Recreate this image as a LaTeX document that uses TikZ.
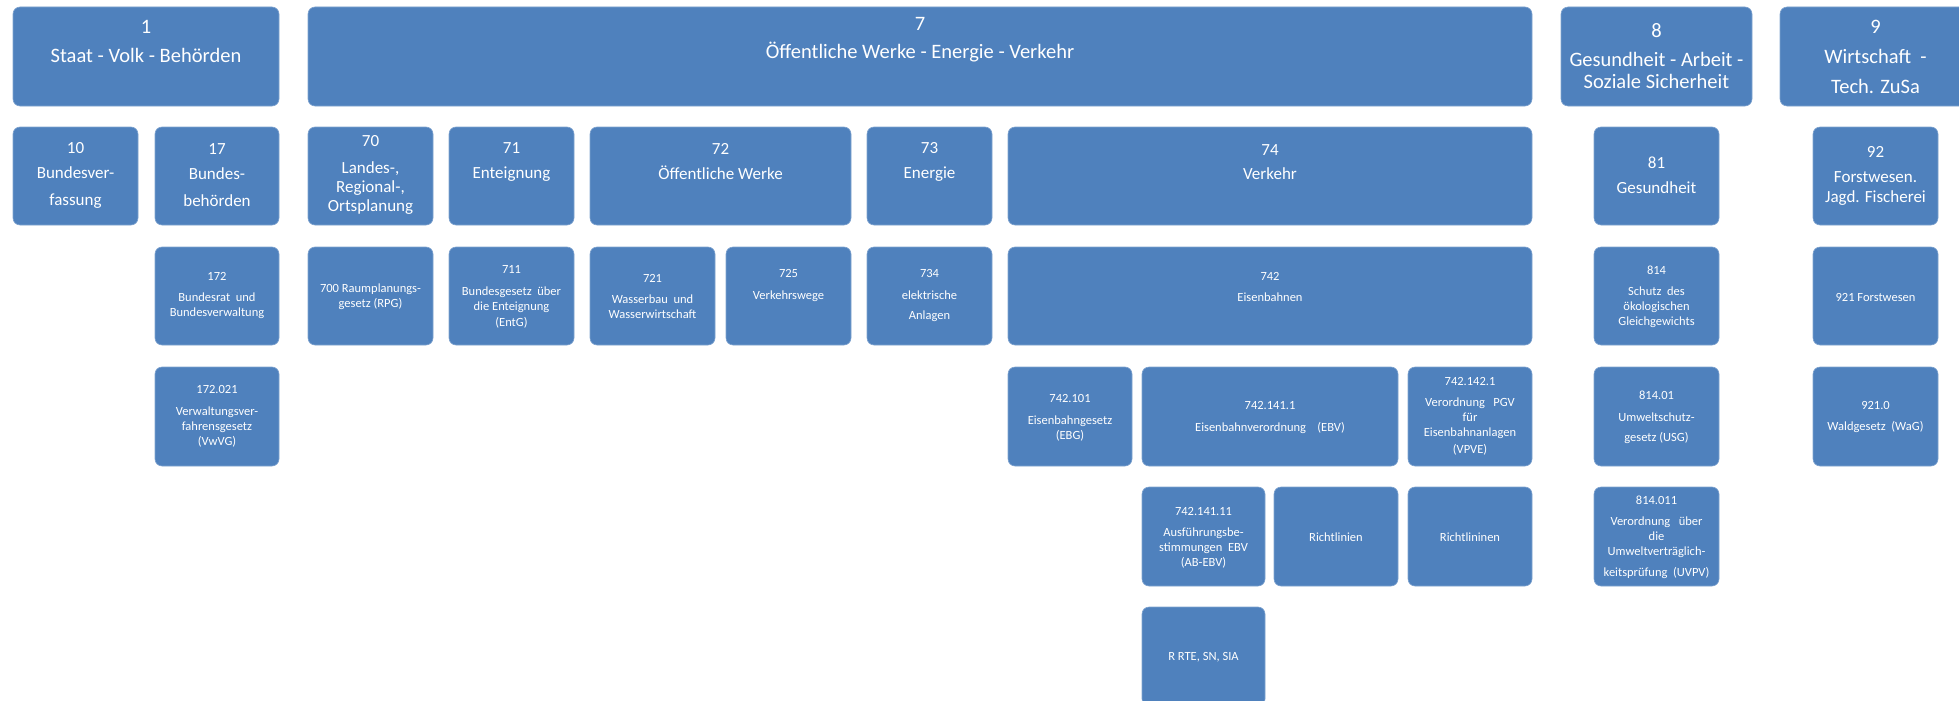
\documentclass[tikz,border=0pt]{standalone}
\usepackage{fontspec}
\setmainfont{Carlito}
\definecolor{boxblue}{HTML}{4F81BD}
\definecolor{boxedge}{HTML}{7FA3CF}
\tikzset{
  box/.style={rectangle, rounded corners=7pt, fill=boxblue, draw=boxedge, line width=0.6pt, inner sep=0pt, outer sep=0pt},
  txt/.style={text=white, align=center, inner sep=0pt},
  lone/.style={txt, font=\fontsize{20.5}{22}\selectfont},
  ltwo/.style={txt, font=\fontsize{17}{19}\selectfont},
  lthree/.style={txt, font=\fontsize{12.5}{15}\selectfont},
}
\newcommand\bx[5]{\node[box, minimum width={#4-#2}, minimum height={#5-#3}] (#1) at ({(#2+#4)/2},{(#3+#5)/2}) {};}
\begin{document}
\begin{tikzpicture}[x=1pt, y=-1pt]
\useasboundingbox (0,0) rectangle (1959,701);
\clip (0,0) rectangle (1959,701);
% row 1
\bx{b1}{13}{7}{279}{106}
\bx{b7}{308}{7}{1532}{106}
\bx{b8}{1561}{7}{1752}{106}
\bx{b9}{1780}{7}{1971}{106}
% row 2
\bx{b10}{13}{127}{138}{225}
\bx{b17}{155}{127}{279}{225}
\bx{b70}{308}{127}{433}{225}
\bx{b71}{449}{127}{574}{225}
\bx{b72}{590}{127}{851}{225}
\bx{b73}{867}{127}{992}{225}
\bx{b74}{1008}{127}{1532}{225}
\bx{b81}{1594}{127}{1719}{225}
\bx{b92}{1813}{127}{1938}{225}
% row 3
\bx{b172}{155}{247}{279}{345}
\bx{b700}{308}{247}{433}{345}
\bx{b711}{449}{247}{574}{345}
\bx{b721}{590}{247}{715}{345}
\bx{b725}{726}{247}{851}{345}
\bx{b734}{867}{247}{992}{345}
\bx{b742}{1008}{247}{1532}{345}
\bx{b814}{1594}{247}{1719}{345}
\bx{b921}{1813}{247}{1938}{345}
% row 4
\bx{b172021}{155}{367}{279}{466}
\bx{b742101}{1008}{367}{1132}{466}
\bx{b7421411}{1142}{367}{1398}{466}
\bx{b7421421}{1408}{367}{1532}{466}
\bx{b81401}{1594}{367}{1719}{466}
\bx{b9210}{1813}{367}{1938}{466}
% row 5
\bx{b74214111}{1142}{487}{1265}{586}
\bx{brl1}{1274}{487}{1398}{586}
\bx{brl2}{1408}{487}{1532}{586}
\bx{b814011}{1594}{487}{1719}{586}
% row 6
\bx{brrte}{1142}{607}{1265}{706}

% texts level 1
\node[lone] (t1) at (146,41.5) {1\\[7pt]Staat - Volk - Behörden};
\node[lone] (t7) at (920,40) {7\\[6pt]Öffentliche Werke - Energie - Verkehr};
\node[lone] (t8) at (1656.5,56) {8\\[7pt]Gesundheit - Arbeit -\\Soziale Sicherheit};
\node[lone] (t9) at (1875.5,56.5) {9\\[8pt]Wirtschaft\ \ -\\[8pt]Tech. ZuSa};
% texts level 2
\node[ltwo] (t10) at (75.5,175) {10\\[6pt]Bundesver-\\[8pt]fassung};
\node[ltwo] (t17) at (217,175) {17\\[6pt]Bundes-\\[8pt]behörden};
\node[ltwo] (t70) at (370.5,175) {70\\[8pt]Landes-,\\Regional-,\\Ortsplanung};
\node[ltwo] (t71) at (511.5,162) {71\\[6pt]Enteignung};
\node[ltwo] (t72) at (720.5,162) {72\\[6pt]Öffentliche Werke};
\node[ltwo] (t73) at (929.5,162) {73\\[6pt]Energie};
\node[ltwo] (t74) at (1270,162) {74\\[5pt]Verkehr};
\node[ltwo] (t81) at (1656.5,175.5) {81\\[6pt]Gesundheit};
\node[ltwo] (t92) at (1875.5,175.5) {92\\[6pt]Forstwesen.\\[1pt]Jagd. Fischerei};
% texts level 3
\node[lthree] (t172) at (217,296) {172\\[6pt]Bundesrat\ \ und\\Bundesverwaltung};
\node[lthree] (t700) at (370.5,296.5) {700 Raumplanungs-\\gesetz (RPG)};
\node[lthree] (t711) at (511.5,297) {711\\[7pt]Bundesgesetz\ \ über\\die Enteignung\\[1pt](EntG)};
\node[lthree] (t721) at (652.5,296) {721\\[6pt]Wasserbau\ \ und\\Wasserwirtschaft};
\node[lthree] (t725) at (788.5,286) {725\\[7pt]Verkehrswege};
\node[lthree] (t734) at (929.5,296) {734\\[7pt]elektrische\\[5pt]Anlagen};
\node[lthree] (t742) at (1270,286.5) {742\\[6pt]Eisenbahnen};
\node[lthree] (t814) at (1656.5,296.5) {814\\[6pt]Schutz\ \ des\\ökologischen\\Gleichgewichts};
\node[lthree] (t921) at (1875.5,297) {921 Forstwesen};
\node[lthree] (t172021) at (217,416.5) {172.021\\[7pt]Verwaltungsver-\\fahrensgesetz\\(VwVG)};
\node[lthree] (t742101) at (1070,417.5) {742.101\\[7pt]Eisenbahngesetz\\(EBG)};
\node[lthree] (t7421411) at (1270,418) {742.141.1\\[7pt]Eisenbahnverordnung\ \ \ \ (EBV)};
\node[lthree] (t7421421) at (1470,416.5) {742.142.1\\[6pt]Verordnung\ \ \ PGV\\für\\Eisenbahnanlagen\\[2pt](VPVE)};
\node[lthree] (t81401) at (1656.5,417) {814.01\\[7pt]Umweltschutz-\\[5pt]gesetz (USG)};
\node[lthree] (t9210) at (1875.5,417.5) {921.0\\[6pt]Waldgesetz\ \ (WaG)};
\node[lthree] (t74214111) at (1203.5,537.5) {742.141.11\\[6pt]Ausführungsbe-\\stimmungen\ \ EBV\\(AB-EBV)};
\node[lthree] (trl1) at (1336,537) {Richtlinien};
\node[lthree] (trl2) at (1470,537) {Richtlininen};
\node[lthree] (t814011) at (1656.5,537) {814.011\\[6pt]Verordnung\ \ \ über\\die\\Umweltverträglich-\\[6pt]keitsprüfung\ \ (UVPV)};
\node[lthree] (trrte) at (1203.5,657) {R RTE, SN, SIA};
\end{tikzpicture}
\end{document}
